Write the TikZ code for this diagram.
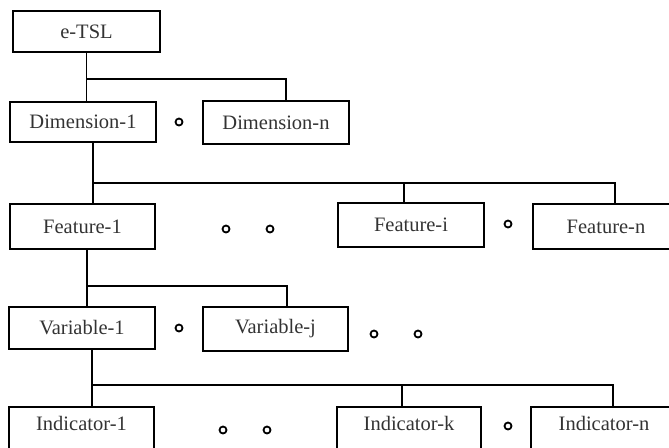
\documentclass[tikz,border=0pt]{standalone}
\usepackage{fontspec}
\setmainfont{Liberation Serif}
\begin{document}
\begin{tikzpicture}[x=1pt,y=-1pt,
  box/.style={draw, line width=1.8pt, inner sep=0pt, font=\fontsize{20.5}{24}\selectfont, text=black!80},
  lowbox/.style={box, text height=14pt, text depth=18pt},
  link/.style={line width=1.7pt},
  gap/.style={circle, draw, line width=1.8pt, inner sep=0pt, minimum size=7pt}]
\clip (0,0) rectangle (669,447);
% boxes
\node[box, minimum width=147pt, minimum height=41pt] (etsl) at (86.5,31.5) {e-TSL};
\node[box, minimum width=146pt, minimum height=40pt] (dim1) at (83,122) {Dimension-1};
\node[box, minimum width=146pt, minimum height=43pt] (dimn) at (276,122.5) {Dimension-n};
\node[box, minimum width=145pt, minimum height=45pt] (feat1) at (82.5,226.5) {Feature-1};
\node[box, minimum width=146pt, minimum height=44pt] (feati) at (411,225) {Feature-i};
\node[box, minimum width=146pt, minimum height=45pt] (featn) at (606,226.5) {Feature-n};
\node[box, minimum width=146pt, minimum height=42pt] (var1) at (82,328) {Variable-1};
\node[box, minimum width=145pt, minimum height=44pt] (varj) at (275.5,329) {Variable-j};
\node[lowbox, minimum width=145pt, minimum height=50pt] (ind1) at (81.5,432) {Indicator-1};
\node[lowbox, minimum width=144pt, minimum height=50pt] (indk) at (409,432) {Indicator-k};
\node[lowbox, minimum width=146pt, minimum height=50pt] (indn) at (604,432) {Indicator-n};
% junctions
\coordinate (j1) at (87,79);
\coordinate (j2) at (93,183);
\coordinate (j3) at (87,286);
\coordinate (j4) at (92,385);
% connectors
\draw[link] (etsl.south) -- (etsl.south |- dim1.north);
\draw[link] (j1) -| ([xshift=10pt]dimn.north);
\draw[link] ([xshift=10pt]dim1.south) -- ([xshift=10pt]dim1.south |- feat1.north);
\draw[link] (j2) -| ([xshift=9pt]featn.north);
\draw[link] ([xshift=-7pt]feati.north) |- (j2);
\draw[link] ([xshift=4.5pt]feat1.south) -- ([xshift=4.5pt]feat1.south |- var1.north);
\draw[link] (j3) -| ([xshift=11.5pt]varj.north);
\draw[link] ([xshift=10pt]var1.south) -- ([xshift=10pt]var1.south |- ind1.north);
\draw[link] (j4) -| ([xshift=9pt]indn.north);
\draw[link] ([xshift=-7pt]indk.north) |- (j4);
% ellipsis circles
\node[gap] (g1) at (179,122) {};
\node[gap] (g2) at (226,229) {};
\node[gap] (g3) at (270,229) {};
\node[gap] (g4) at (508,224) {};
\node[gap] (g5) at (179,328) {};
\node[gap] (g6) at (374,334) {};
\node[gap] (g7) at (418,334) {};
\node[gap] (g8) at (223,430) {};
\node[gap] (g9) at (267,430) {};
\node[gap] (g10) at (508,426) {};
\end{tikzpicture}
\end{document}
